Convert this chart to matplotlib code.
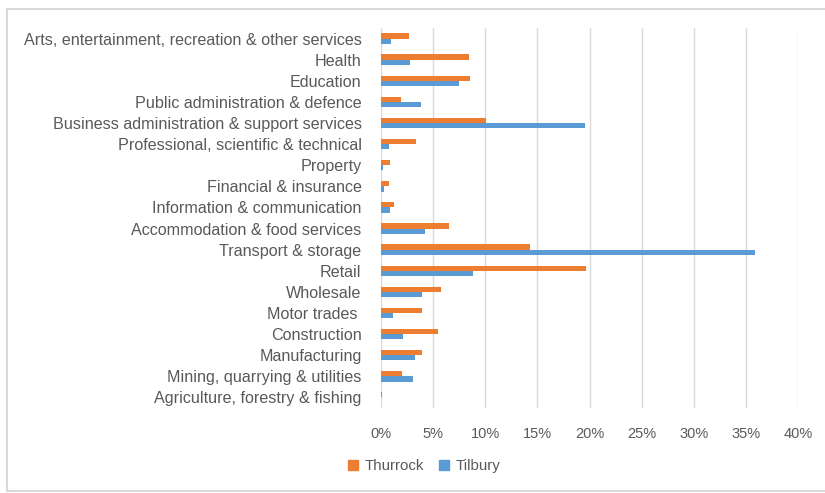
import numpy as np
import matplotlib; matplotlib.use('Agg')
import matplotlib.pyplot as plt
from matplotlib.lines import Line2D
from matplotlib.patches import Patch

# categories listed bottom -> top
sectors = [
    'Agriculture, forestry & fishing',
    'Mining, quarrying & utilities',
    'Manufacturing',
    'Construction',
    'Motor trades ',
    'Wholesale',
    'Retail',
    'Transport & storage',
    'Accommodation & food services',
    'Information & communication',
    'Financial & insurance',
    'Property',
    'Professional, scientific & technical',
    'Business administration & support services',
    'Public administration & defence',
    'Education',
    'Health',
    'Arts, entertainment, recreation & other services',
]
thurrock = [0.07, 2.0, 3.95, 5.45, 3.95, 5.8, 19.7, 14.3, 6.5, 1.25, 0.76, 0.86,
            3.4, 10.1, 1.9, 8.5, 8.45, 2.7]
tilbury = [0.0, 3.1, 3.25, 2.15, 1.15, 3.95, 8.8, 35.9, 4.2, 0.85, 0.32, 0.16,
           0.75, 19.6, 3.85, 7.5, 2.8, 0.95]
xticks = [0, 5, 10, 15, 20, 25, 30, 35, 40]

ORANGE = '#ED7D31'
BLUE = '#5B9BD5'
GREY_TXT = '#595959'

plt.rcParams['font.family'] = ['Liberation Sans', 'DejaVu Sans']

fig = plt.figure(figsize=(8.25, 4.93), dpi=100)
ax = fig.add_axes([381 / 825, 1 - 408 / 493, 417 / 825, 380 / 493])

y = np.arange(len(sectors))
h = 0.245
ax.barh(y + h / 2, thurrock, height=h, color=ORANGE, label='Thurrock', zorder=3)
ax.barh(y - h / 2, tilbury, height=h, color=BLUE, label='Tilbury', zorder=3)

ax.set_ylim(-0.5, len(sectors) - 0.5)
ax.set_xlim(0, 40)
ax.set_yticks(y)
ax.set_yticklabels(sectors, fontsize=11.6, color=GREY_TXT)
ax.set_xticks(xticks)
ax.set_xticklabels([f'{v}%' for v in xticks], fontsize=10.5, color=GREY_TXT)
ax.tick_params(axis='y', length=0, pad=14)
ax.tick_params(axis='x', length=0, pad=14)
ax.grid(axis='x', color='#D9D9D9', lw=1, zorder=0)
for s in ax.spines.values():
    s.set_visible(False)

handles = [Patch(color=ORANGE, label='Thurrock'), Patch(color=BLUE, label='Tilbury')]
fig.legend(handles=handles, loc='center', bbox_to_anchor=(424 / 825, 1 - 466 / 493),
           ncol=2, frameon=False, fontsize=10.8, handlelength=0.7, handleheight=0.7,
           handletextpad=0.4, columnspacing=1.0, labelcolor=GREY_TXT)

# outer chart frame (top, left, bottom)
fx0, fy0, fy1 = 7 / 825, 1 - 491 / 493, 1 - 9 / 493
for xs, ys in [([fx0, 1.0], [fy1, fy1]), ([fx0, fx0], [fy0, fy1]), ([fx0, 1.0], [fy0, fy0])]:
    fig.add_artist(Line2D(xs, ys, transform=fig.transFigure, color='#D9D9D9', lw=1.5))

fig.savefig('out.png', dpi=100)
